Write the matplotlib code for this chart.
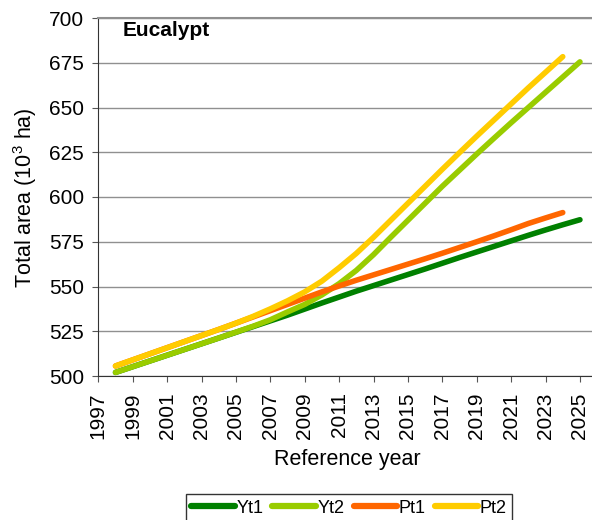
import numpy as np
import matplotlib
matplotlib.use("Agg")
import matplotlib.pyplot as plt

plt.rcParams['font.family'] = ['Liberation Sans', 'DejaVu Sans']
plt.rcParams['mathtext.fontset'] = 'custom'
plt.rcParams['mathtext.rm'] = 'Liberation Sans'

# Total eucalypt area by scenario (10^3 ha)
years_y = np.arange(1998, 2026)
years_p = np.arange(1998, 2025)

yt1 = [502.0, 505.2, 508.4, 511.6, 514.8, 518.0, 521.2, 524.4, 527.6, 530.8,
       534.0, 537.4, 540.8, 544.1, 547.4, 550.5, 553.6, 556.7, 559.8, 563.0,
       566.2, 569.3, 572.4, 575.5, 578.6, 581.6, 584.5, 587.3]
yt2 = [502.0, 505.2, 508.4, 511.6, 514.8, 518.0, 521.2, 524.5, 527.8, 531.4,
       535.8, 540.0, 545.3, 551.6, 559.0, 567.8, 577.5, 587.0, 596.5, 606.0,
       615.0, 624.0, 632.8, 641.5, 650.0, 658.5, 667.0, 675.5]
pt1 = [505.6, 509.0, 512.4, 515.8, 519.2, 522.6, 526.0, 529.5, 533.0, 536.5,
       540.0, 543.5, 547.0, 550.3, 553.5, 556.5, 559.5, 562.5, 565.5, 568.6,
       571.8, 575.0, 578.3, 581.7, 585.2, 588.3, 591.3]
pt2 = [505.6, 509.0, 512.4, 515.8, 519.2, 522.6, 526.0, 529.5, 533.3, 537.5,
       542.0, 547.0, 553.0, 560.5, 568.5, 577.5, 587.0, 596.5, 606.0, 615.5,
       624.8, 634.0, 643.0, 652.0, 661.0, 669.7, 678.4]

series = [("Yt1", years_y, yt1, "#008000"),
          ("Yt2", years_y, yt2, "#99cc00"),
          ("Pt1", years_p, pt1, "#ff6600"),
          ("Pt2", years_p, pt2, "#ffcc00")]

fig = plt.figure(figsize=(5.92, 5.2), dpi=100)
ax = fig.add_axes([98.3 / 592, 1 - 376 / 520, 1 - 98.3 / 592, 358 / 520])

for name, x, y, c in series:
    ax.plot(x, y, color=c, lw=4.0, solid_capstyle='round', label=name)

ax.set_xlim(1997, 2025.7)
ax.set_ylim(500, 700)
ax.set_xticks(np.arange(1997, 2026, 2))
ax.set_yticks(np.arange(500, 701, 25))
ax.tick_params(axis='x', labelrotation=90, labelsize=15, direction='out',
               length=4.3, color='#555555', pad=7.5)
ax.tick_params(axis='y', labelsize=15, direction='out', length=4.3,
               color='#555555', pad=6)

ax.yaxis.grid(True, color='#909090', lw=1.0)
ax.set_axisbelow(True)
ax.spines['right'].set_visible(False)
ax.spines['top'].set_color('#909090')
ax.spines['top'].set_linewidth(1.5)
ax.spines['left'].set_color('#333333')
ax.spines['bottom'].set_color('#333333')

ax.text(0.049, (376 - 36) / 358, "Eucalypt", transform=ax.transAxes,
        fontsize=15, fontweight='bold', va='baseline', ha='left')

fig.text(25 / 592, 1 - 197.5 / 520, "Total area (10$^3$ ha)", rotation=90,
         fontsize=15.5, ha='center', va='center')
fig.text(347.5 / 592, 1 - 460 / 520, "Reference year", fontsize=15.5,
         ha='center', va='center')

leg = fig.legend(loc='lower center', bbox_to_anchor=(349 / 592, -0.004),
                 ncol=4, fontsize=13, frameon=True, fancybox=False,
                 edgecolor='black', borderpad=0.3, handletextpad=0.1,
                 columnspacing=0.5, handlelength=2.4, borderaxespad=0)
leg.get_frame().set_linewidth(1.0)
for line in leg.get_lines():
    line.set_linewidth(4.5)

fig.savefig("out.png", dpi=100)
